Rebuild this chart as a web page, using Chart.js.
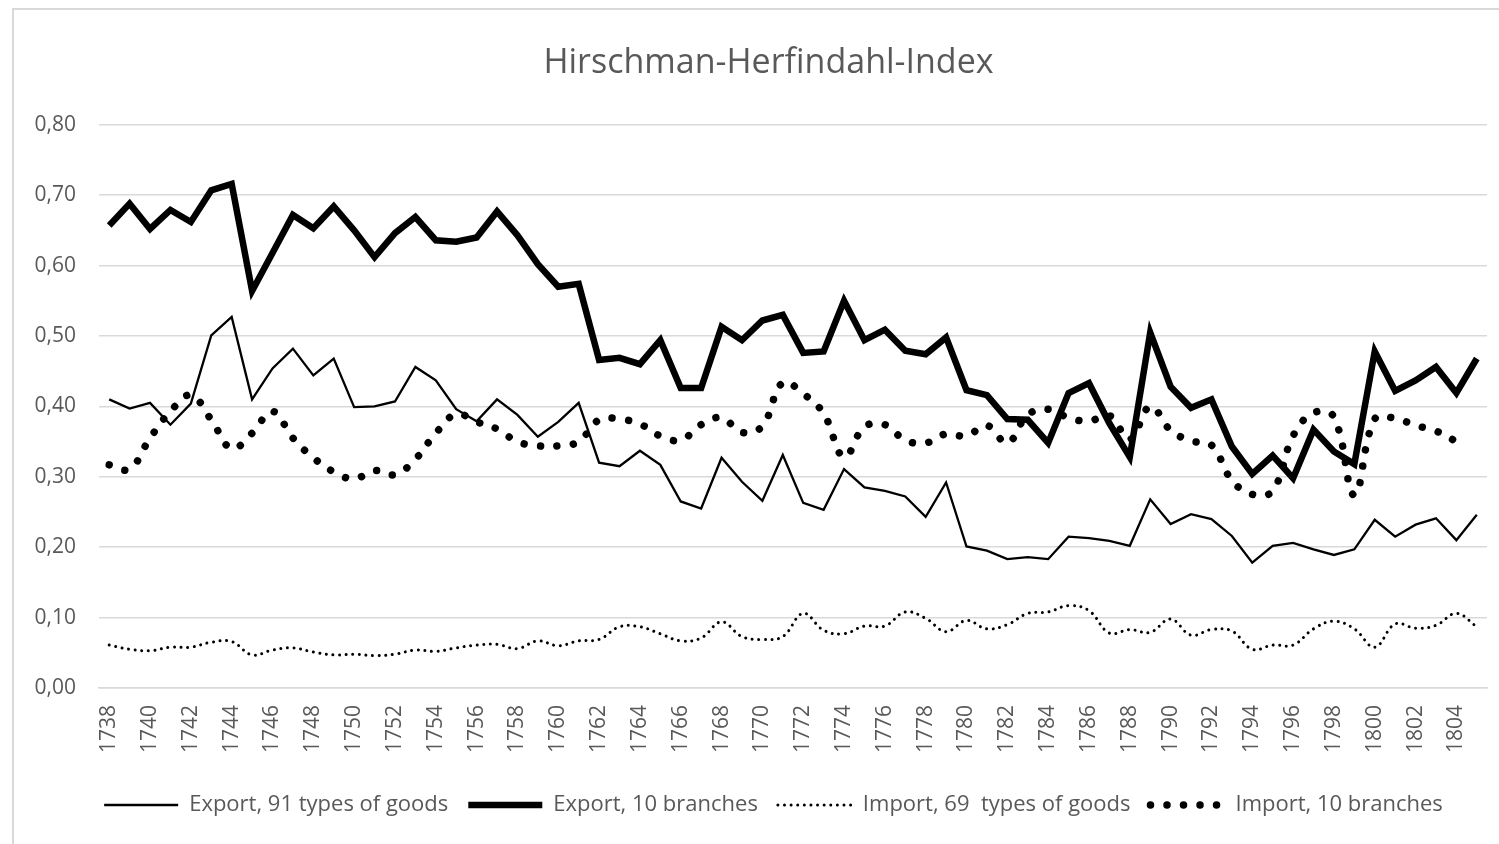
<!DOCTYPE html>
<html>
<head>
<meta charset="utf-8">
<title>Hirschman-Herfindahl-Index</title>
<script src="https://cdn.jsdelivr.net/npm/chart.js@4/dist/chart.umd.min.js"></script>
<style>
    body { margin: 0; background: #fff; overflow: hidden; }
    #frame { position: absolute; left: 12px; top: 8px; width: 1600px; height: 900px; border: 2px solid #d9d9d9; }
    #chart { position: absolute; left: 0; top: 0; }
</style>
</head>
<body>
<div id="frame"></div>
<canvas id="chart" width="1499" height="844"></canvas>
<script>
// years on the x axis
const years = [
    1738, 1739, 1740, 1741, 1742, 1743, 1744, 1745, 1746, 1747,
    1748, 1749, 1750, 1751, 1752, 1753, 1754, 1755, 1756, 1757,
    1758, 1759, 1760, 1761, 1762, 1763, 1764, 1765, 1766, 1767,
    1768, 1769, 1770, 1771, 1772, 1773, 1774, 1775, 1776, 1777,
    1778, 1779, 1780, 1781, 1782, 1783, 1784, 1785, 1786, 1787,
    1788, 1789, 1790, 1791, 1792, 1793, 1794, 1795, 1796, 1797,
    1798, 1799, 1800, 1801, 1802, 1803, 1804, 1805
];

// Export, 91 types of goods (thin line)
const exportGoods = [
    0.410, 0.397, 0.405, 0.374, 0.404, 0.501, 0.527, 0.410, 0.454, 0.482,
    0.444, 0.468, 0.399, 0.400, 0.407, 0.456, 0.437, 0.396, 0.379, 0.410,
    0.388, 0.357, 0.378, 0.405, 0.320, 0.315, 0.337, 0.317, 0.265, 0.255,
    0.327, 0.293, 0.266, 0.331, 0.263, 0.253, 0.311, 0.285, 0.280, 0.272,
    0.243, 0.292, 0.201, 0.195, 0.183, 0.186, 0.183, 0.215, 0.213, 0.209,
    0.202, 0.268, 0.233, 0.247, 0.240, 0.216, 0.178, 0.202, 0.206, 0.197,
    0.189, 0.197, 0.239, 0.215, 0.232, 0.241, 0.210, 0.246
];

// Export, 10 branches (thick line)
const exportBranches = [
    0.657, 0.688, 0.652, 0.679, 0.662, 0.707, 0.716, 0.564, 0.618, 0.672,
    0.653, 0.684, 0.650, 0.612, 0.646, 0.669, 0.636, 0.634, 0.640, 0.677,
    0.643, 0.602, 0.570, 0.574, 0.466, 0.469, 0.460, 0.494, 0.426, 0.426,
    0.513, 0.494, 0.522, 0.530, 0.476, 0.478, 0.550, 0.494, 0.509, 0.479,
    0.474, 0.498, 0.423, 0.416, 0.382, 0.381, 0.348, 0.419, 0.433, 0.376,
    0.328, 0.505, 0.428, 0.398, 0.410, 0.343, 0.304, 0.330, 0.298, 0.367,
    0.336, 0.318, 0.478, 0.422, 0.437, 0.456, 0.419, 0.468
];

// Import, 69 types of goods (small dots)
const importGoods = [
    0.061, 0.055, 0.053, 0.058, 0.058, 0.065, 0.066, 0.047, 0.054, 0.057,
    0.051, 0.047, 0.048, 0.046, 0.048, 0.054, 0.052, 0.057, 0.061, 0.062,
    0.056, 0.067, 0.060, 0.067, 0.069, 0.087, 0.087, 0.077, 0.067, 0.071,
    0.094, 0.073, 0.069, 0.073, 0.106, 0.082, 0.077, 0.088, 0.088, 0.108,
    0.099, 0.080, 0.096, 0.084, 0.090, 0.106, 0.108, 0.117, 0.110, 0.078,
    0.083, 0.079, 0.098, 0.075, 0.083, 0.081, 0.055, 0.061, 0.061, 0.084,
    0.095, 0.084, 0.058, 0.091, 0.085, 0.089, 0.106, 0.087
];

// Import, 10 branches (big dots), no value for 1805
const importBranches = [
    0.317, 0.311, 0.355, 0.393, 0.416, 0.381, 0.340, 0.362, 0.393, 0.355,
    0.327, 0.307, 0.297, 0.309, 0.303, 0.325, 0.362, 0.389, 0.378, 0.368,
    0.350, 0.344, 0.344, 0.350, 0.381, 0.382, 0.375, 0.358, 0.352, 0.374,
    0.384, 0.363, 0.372, 0.434, 0.418, 0.390, 0.328, 0.371, 0.374, 0.352,
    0.348, 0.361, 0.358, 0.373, 0.348, 0.388, 0.396, 0.384, 0.379, 0.387,
    0.353, 0.400, 0.366, 0.351, 0.345, 0.295, 0.275, 0.280, 0.358, 0.391,
    0.385, 0.274, 0.382, 0.383, 0.373, 0.365, 0.350, null
];

const yTicks = [0, 0.1, 0.2, 0.3, 0.4, 0.5, 0.6, 0.7, 0.8];

const grey = '#595959';
const font = 'Open Sans';

// legend items with the dataset's own dash and caps
function legendLabels(chart) {
    const items = Chart.defaults.plugins.legend.labels.generateLabels(chart);
    items.forEach(item => {
        const ds = chart.data.datasets[item.datasetIndex];
        item.lineDash = ds.borderDash || [];
        item.lineCap = ds.borderCapStyle || 'butt';
        item.lineWidth = ds.borderWidth;
    });
    return items;
}

// nudge title and legend to the right, like the original
const shiftBoxes = {
    id: 'shiftBoxes',
    afterLayout(chart) {
        chart.legend.left += 20;
        chart.legend.right += 20;
        chart.titleBlock.left += 15;
        chart.titleBlock.right += 15;
    }
};

new Chart('chart', {
    type: 'line',
    data: {
        labels: years,
        datasets: [
            {
                label: 'Export, 91 types of goods',
                data: exportGoods,
                borderColor: '#000',
                borderWidth: 2.3,
                tension: 0
            },
            {
                label: 'Export, 10 branches',
                data: exportBranches,
                borderColor: '#000',
                borderWidth: 6.5,
                tension: 0
            },
            {
                label: 'Import, 69  types of goods',
                data: importGoods,
                borderColor: '#000',
                borderWidth: 3,
                borderDash: [0.01, 6.6],
                borderCapStyle: 'round',
                tension: 0.4
            },
            {
                label: 'Import, 10 branches',
                data: importBranches,
                borderColor: '#000',
                borderWidth: 7.5,
                borderDash: [0.01, 16.5],
                borderCapStyle: 'round',
                tension: 0.4
            }
        ]
    },
    plugins: [shiftBoxes],
    options: {
        responsive: false,
        animation: false,
        devicePixelRatio: 1,
        elements: { point: { radius: 0, hoverRadius: 0 } },
        layout: { padding: { left: 20, right: 12, top: 8, bottom: 18 } },
        plugins: {
            title: {
                display: true,
                text: 'Hirschman-Herfindahl-Index',
                color: grey,
                font: { family: font, size: 34, weight: 'normal' },
                padding: { top: 35, bottom: 41 }
            },
            legend: {
                position: 'bottom',
                labels: {
                    usePointStyle: true,
                    pointStyle: 'line',
                    pointStyleWidth: 74,
                    padding: 20,
                    color: grey,
                    font: { family: font, size: 22 },
                    generateLabels: legendLabels
                }
            },
            tooltip: { enabled: false }
        },
        scales: {
            x: {
                offset: true,
                grid: { display: false, drawTicks: false },
                border: { color: '#d9d9d9', width: 1.5 },
                ticks: {
                    autoSkip: false,
                    minRotation: 90,
                    maxRotation: 90,
                    padding: 17,
                    color: grey,
                    font: { family: font, size: 21 },
                    callback: (val, i) => (i % 2 === 0 ? years[i] : '')
                },
                afterFit: (scale) => {
                    scale.height = 86;
                    scale.paddingLeft = 0;
                    scale.paddingRight = 0;
                }
            },
            y: {
                min: 0,
                max: 0.8,
                afterBuildTicks: (scale) => { scale.ticks = yTicks.map(v => ({ value: v })); },
                grid: { color: '#d9d9d9', lineWidth: 1.5, drawTicks: false },
                border: { display: false },
                ticks: {
                    padding: 23,
                    color: grey,
                    font: { family: font, size: 21 },
                    callback: (v) => v.toFixed(2).replace('.', ',')
                },
                afterFit: (scale) => {
                    scale.width = 79;
                    scale.paddingTop = 0;
                    scale.paddingBottom = 0;
                }
            }
        }
    }
});
</script>
</body>
</html>
